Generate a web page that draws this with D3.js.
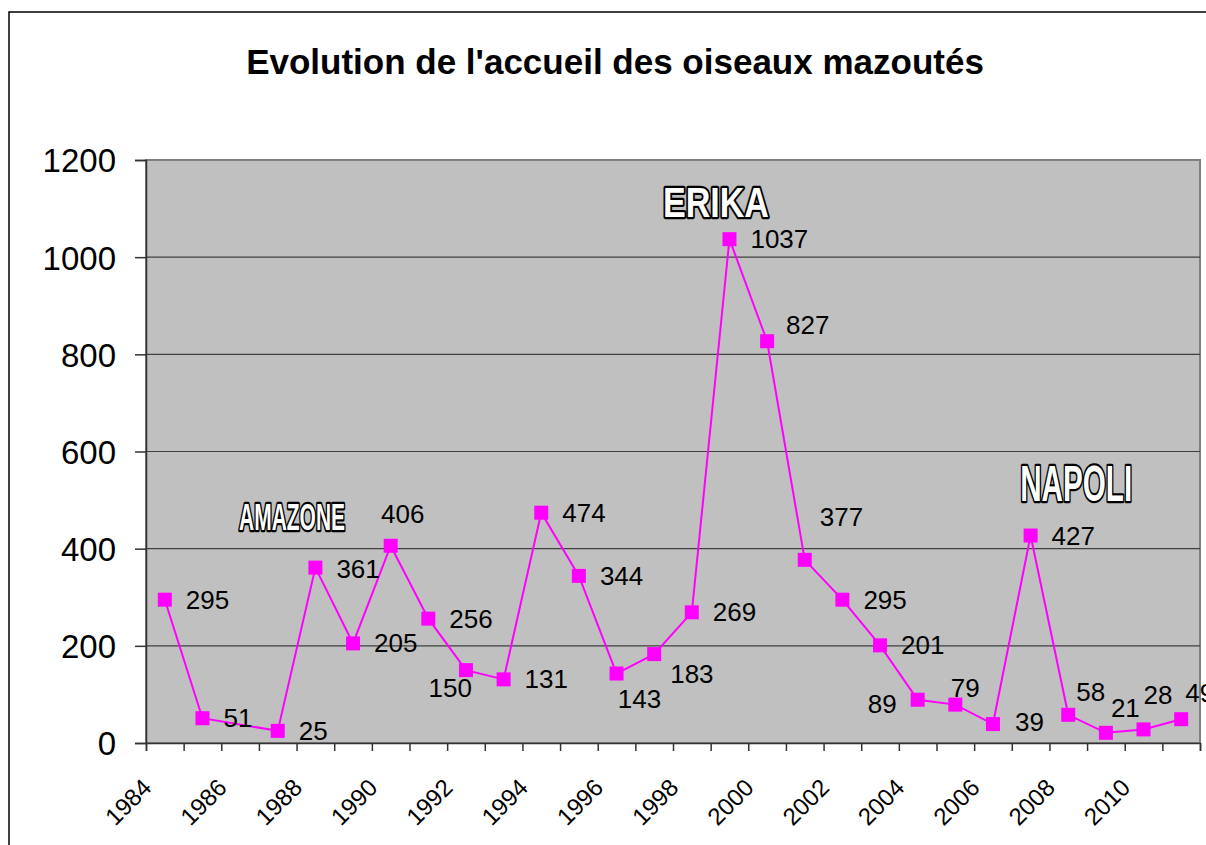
<!DOCTYPE html>
<html>
<head>
<meta charset="utf-8">
<script src="https://cdn.jsdelivr.net/npm/d3@7"></script>
<style>
  body { margin: 0; background: #fff; }
  svg { display: block; font-family: "Liberation Sans", Arial, sans-serif; }
</style>
</head>
<body>
<div id="chart"></div>
<script>
// data
var years = [1984, 1985, 1987, 1988, 1989, 1990, 1991, 1992, 1993, 1994, 1995, 1996, 1997,
  1998, 1999, 2000, 2001, 2002, 2003, 2004, 2005, 2006, 2007, 2008, 2009, 2010, 2011];
var birds = [295, 51, 25, 361, 205, 406, 256, 150, 131, 474, 344, 143, 183,
  269, 1037, 827, 377, 295, 201, 89, 79, 39, 427, 58, 21, 28, 49];
var yTicks = [0, 200, 400, 600, 800, 1000, 1200];
var xTickLabels = [1984, 1986, 1988, 1990, 1992, 1994, 1996, 1998, 2000, 2002, 2004, 2006, 2008, 2010];
var spills = ['AMAZONE', 'ERIKA', 'NAPOLI'];
var spillYears = [1987.88, 1999.14, 2008.71];
var spillLevels = [438, 1082, 498];

// label placement (like excel's manual label moves) : [dx, dy, anchor]
var labelOffsets = [
  [21, 9, 'start'], [21, 9, 'start'], [21, 9, 'start'], [21, 10, 'start'], [21, 9, 'start'],
  [12, -23, 'middle'], [21, 9, 'start'], [6, 27, 'end'], [21, 9, 'start'], [21, 9, 'start'],
  [21, 9, 'start'], [23, 34, 'middle'], [16, 29, 'start'], [21, 9, 'start'], [21, 9, 'start'],
  [19, -7, 'start'], [15, -34, 'start'], [21, 9, 'start'], [21, 9, 'start'], [-21, 13, 'end'],
  [10, -8, 'middle'], [22, 7, 'start'], [21, 9, 'start'], [8, -14, 'start'], [5, -16, 'start'],
  [0, -25, 'start'], [4, -17, 'start']
];
var spillSizes = [36, 42, 50];
var spillWidths = [106, 106, 112];

(function() {
  var width = 1206, height = 845;
  var pLeft = 146, pRight = 1200, pTop = 160, pBottom = 743;

  var svg = d3.select('#chart').append('svg')
    .attr('width', width)
    .attr('height', height);

  // chart border (runs off the page on the right/bottom)
  svg.append('rect')
    .attr('x', 9).attr('y', 12)
    .attr('width', 1220).attr('height', 860)
    .attr('fill', '#fff')
    .attr('stroke', '#000')
    .attr('stroke-width', 1.5);

  svg.append('text')
    .attr('x', 615).attr('y', 74)
    .attr('text-anchor', 'middle')
    .style('font-size', '35px')
    .style('font-weight', 'bold')
    .text("Evolution de l'accueil des oiseaux mazoutés");

  var x = d3.scaleLinear().domain([1984, 2012]).range([pLeft, pRight]);
  var y = d3.scaleLinear().domain([0, 1200]).range([pBottom, pTop]);

  // plot area
  svg.append('rect')
    .attr('x', pLeft).attr('y', pTop)
    .attr('width', pRight - pLeft).attr('height', pBottom - pTop)
    .attr('fill', '#c0c0c0')
    .attr('stroke', '#808080')
    .attr('stroke-width', 2);

  svg.selectAll('.grid')
    .data(yTicks.filter(function(d) { return d > 0 && d < 1200; }))
    .enter().append('line')
    .attr('class', 'grid')
    .attr('x1', pLeft).attr('x2', pRight)
    .attr('y1', function(d) { return y(d); })
    .attr('y2', function(d) { return y(d); })
    .attr('stroke', '#404040')
    .attr('stroke-width', 1.2);

  // y axis
  var yAxis = d3.axisLeft(y).tickValues(yTicks).tickSize(11).tickPadding(19).tickFormat(d3.format('d'));
  var gy = svg.append('g').attr('transform', 'translate(' + pLeft + ',0)').call(yAxis);
  gy.select('.domain').attr('stroke', '#333').attr('stroke-width', 1.5);
  gy.selectAll('.tick line').attr('stroke', '#333').attr('stroke-width', 1.5);
  gy.selectAll('.tick text')
    .attr('fill', '#000')
    .style('font-size', '33px')
    .style('font-family', '"Liberation Sans", Arial, sans-serif')
    .attr('dy', '0.36em');

  // x axis : tick every year, label every 2 years
  var allYears = d3.range(1984, 2013);
  var xAxis = d3.axisBottom(x).tickValues(allYears).tickSize(8).tickFormat('');
  var gx = svg.append('g').attr('transform', 'translate(0,' + pBottom + ')').call(xAxis);
  gx.select('.domain').attr('stroke', '#333').attr('stroke-width', 1.5);
  gx.selectAll('.tick line').attr('stroke', '#333').attr('stroke-width', 1.5);

  svg.selectAll('.xlab')
    .data(xTickLabels)
    .enter().append('text')
    .attr('class', 'xlab')
    .attr('text-anchor', 'end')
    .attr('transform', function(d) { return 'translate(' + (x(d) + 7) + ',' + 789 + ') rotate(-45)'; })
    .style('font-size', '24px')
    .text(function(d) { return d; });

  // series
  var pts = years.map(function(yr, i) { return {year: yr, v: birds[i], off: labelOffsets[i]}; });

  var line = d3.line()
    .x(function(d) { return x(d.year + 0.5); })
    .y(function(d) { return y(d.v); });

  svg.append('path')
    .datum(pts)
    .attr('d', line)
    .attr('fill', 'none')
    .attr('stroke', '#ff00ff')
    .attr('stroke-width', 2);

  svg.selectAll('.mk')
    .data(pts)
    .enter().append('rect')
    .attr('class', 'mk')
    .attr('x', function(d) { return x(d.year + 0.5) - 7; })
    .attr('y', function(d) { return y(d.v) - 7; })
    .attr('width', 14).attr('height', 14)
    .attr('fill', '#ff00ff');

  svg.selectAll('.lbl')
    .data(pts)
    .enter().append('text')
    .attr('class', 'lbl')
    .attr('x', function(d) { return x(d.year + 0.5) + d.off[0]; })
    .attr('y', function(d) { return y(d.v) + d.off[1]; })
    .attr('text-anchor', function(d) { return d.off[2]; })
    .style('font-size', '26px')
    .text(function(d) { return d.v; });

  // oil spill names
  svg.selectAll('.spill')
    .data(spills)
    .enter().append('text')
    .attr('class', 'spill')
    .attr('x', function(d, i) { return x(spillYears[i]); })
    .attr('y', function(d, i) { return y(spillLevels[i]); })
    .attr('text-anchor', 'middle')
    .attr('textLength', function(d, i) { return spillWidths[i]; })
    .attr('lengthAdjust', 'spacingAndGlyphs')
    .style('font-family', '"Liberation Sans Narrow", "Liberation Sans", Arial, sans-serif')
    .style('font-weight', 'bold')
    .style('font-size', function(d, i) { return spillSizes[i] + 'px'; })
    .attr('fill', '#fff')
    .attr('stroke', '#000')
    .attr('stroke-width', 4.5)
    .attr('stroke-linejoin', 'round')
    .style('paint-order', 'stroke')
    .text(function(d) { return d; });
})();
</script>
</body>
</html>
